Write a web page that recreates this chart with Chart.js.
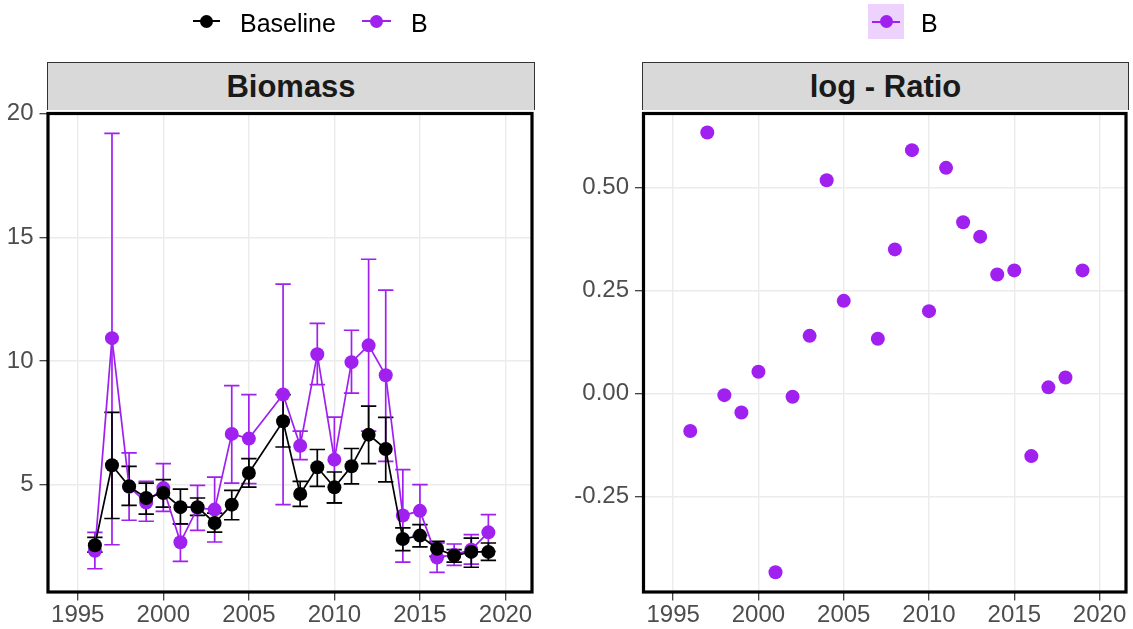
<!DOCTYPE html>
<html>
<head>
<meta charset="utf-8">
<script src="https://cdn.jsdelivr.net/npm/chart.js@4/dist/chart.umd.min.js"></script>
<style>
  html, body { margin: 0; padding: 0; background: #fff; }
  #wrap { position: relative; width: 1133px; height: 629px; overflow: hidden; font-family: "Liberation Sans", Arial, sans-serif; }
  canvas { position: absolute; top: 0; }
  .strip { position: absolute; top: 62px; height: 48px; background: #D9D9D9; border: 1px solid #333; border-bottom: none;
           box-sizing: border-box; text-align: center; line-height: 48px; font-weight: bold; font-size: 31px; color: #1A1A1A; }
  .leg { position: absolute; top: 8px; font-size: 25px; line-height: 30px; color: #000; white-space: nowrap; }
  .kline { position: absolute; height: 2px; }
  .kdot { position: absolute; width: 13px; height: 13px; border-radius: 50%; }
  .kbox { position: absolute; background: #ECD2FC; }
</style>
</head>
<body>
<div id="wrap">
  <canvas id="c1" width="566" height="629" style="left:0"></canvas>
  <canvas id="c2" width="567" height="629" style="left:566px"></canvas>

  <div class="strip" style="left:47px; width:488px;">Biomass</div>
  <div class="strip" style="left:642px; width:487px;">log - Ratio</div>

  <!-- left legend -->
  <div class="kline" style="left:193px; width:27px; top:20px; background:#000;"></div>
  <div class="kdot" style="left:200px; top:14.5px; background:#000;"></div>
  <div class="leg" style="left:240px;">Baseline</div>
  <div class="kline" style="left:362px; width:29px; top:20px; background:#A020F0;"></div>
  <div class="kdot" style="left:370px; top:14.5px; background:#A020F0;"></div>
  <div class="leg" style="left:411px;">B</div>

  <!-- right legend -->
  <div class="kbox" style="left:868px; top:4px; width:36px; height:35px;"></div>
  <div class="kline" style="left:872px; width:28px; top:20.5px; background:#A020F0;"></div>
  <div class="kdot" style="left:879.5px; top:15px; background:#A020F0;"></div>
  <div class="leg" style="left:921px;">B</div>
</div>

<script>
// ---------------- data ----------------
const years = [1996,1997,1998,1999,2000,2001,2002,2003,2004,2005,2007,2008,2009,2010,2011,2012,2013,2014,2015,2016,2017,2018,2019];

const baseline   = [2.55,5.78,4.93,4.46,4.66,4.09,4.09,3.45,4.19,5.47,7.56,4.62,5.70,4.89,5.74,7.02,6.44,2.80,2.94,2.41,2.13,2.28,2.28];
const baselineLo = [2.27,3.63,4.16,3.81,4.09,3.41,3.76,3.08,3.58,4.90,6.52,4.12,4.93,4.26,5.03,5.85,5.11,2.33,2.48,2.10,1.87,1.66,1.94];
const baselineHi = [2.87,7.92,5.74,5.06,5.20,4.82,4.46,3.85,4.77,6.05,8.64,5.13,6.42,5.51,6.46,8.17,7.72,3.25,3.38,2.71,2.37,2.84,2.64];

const bValues = [2.33,10.92,4.91,4.28,4.86,2.67,4.06,3.99,7.05,6.86,8.64,6.57,10.27,6.01,9.95,10.63,9.42,3.75,3.94,2.05,2.17,2.37,3.07];
const bLo     = [1.60,2.57,3.56,3.52,3.92,1.90,3.15,2.68,5.06,5.04,4.19,6.01,9.04,4.25,8.70,7.16,5.94,1.87,2.95,1.45,1.74,1.79,2.30];
const bHi     = [3.07,19.20,6.28,5.13,5.85,3.41,4.97,5.30,9.00,8.64,13.10,7.16,11.52,7.73,11.24,14.11,12.86,5.61,5.00,2.64,2.60,2.98,3.79];

const logRatio = [-0.091,0.634,-0.004,-0.046,0.053,-0.434,-0.008,0.140,0.518,0.225,0.133,0.350,0.591,0.200,0.548,0.416,0.381,0.289,0.299,-0.152,0.015,0.039,0.299];

const xTicks = [1995,2000,2005,2010,2015,2020];
const yTicksBiomass = [5,10,15,20];
const yTicksRatio = [-0.25,0,0.25,0.5];

// ---------------- styling ----------------
const PURPLE = '#A020F0';
const GRID = '#EBEBEB';
const TICKTXT = '#4D4D4D';
const FONT = '"Liberation Sans", Arial, sans-serif';

const toPts = (xs, ys) => xs.map((x, i) => ({ x: x, y: ys[i] }));

const errorBars = {
  id: 'errorBars',
  beforeDatasetsDraw(chart, args, opts) {
    if (!opts || !opts.series) return;
    const ctx = chart.ctx, xs = chart.scales.x, ys = chart.scales.y;
    ctx.save();
    ctx.beginPath();
    ctx.rect(chart.chartArea.left, chart.chartArea.top, chart.chartArea.right - chart.chartArea.left, chart.chartArea.bottom - chart.chartArea.top);
    ctx.clip();
    opts.series.forEach(s => {
      ctx.strokeStyle = s.color;
      ctx.lineWidth = 1.7;
      s.x.forEach((xv, i) => {
        const px = xs.getPixelForValue(xv);
        const hw = xs.getPixelForValue(xv + 0.45) - px;
        const y1 = ys.getPixelForValue(s.lo[i]);
        const y2 = ys.getPixelForValue(s.hi[i]);
        ctx.beginPath();
        ctx.moveTo(px, y1); ctx.lineTo(px, y2);
        ctx.moveTo(px - hw, y1); ctx.lineTo(px + hw, y1);
        ctx.moveTo(px - hw, y2); ctx.lineTo(px + hw, y2);
        ctx.stroke();
      });
    });
    ctx.restore();
  }
};

const panelBorder = {
  id: 'panelBorder',
  afterDraw(chart) {
    const a = chart.chartArea, ctx = chart.ctx;
    ctx.save();
    ctx.strokeStyle = '#000';
    ctx.lineWidth = 3.2;
    ctx.strokeRect(a.left, a.top, a.right - a.left, a.bottom - a.top);
    ctx.restore();
  }
};

function xScale() {
  return {
    type: 'linear',
    min: 1993.26, max: 2021.55,
    afterBuildTicks: s => { s.ticks = xTicks.map(v => ({ value: v })); },
    afterFit: s => { s.height = 37; },
    ticks: { font: { size: 24, family: FONT }, color: TICKTXT, padding: 0, maxRotation: 0, autoSkip: false, callback: v => String(v) },
    grid: { color: GRID, lineWidth: 1.4, tickColor: '#333', tickLength: 8.5, tickWidth: 1.2 },
    border: { display: false }
  };
}

function yScale(min, max, ticks, width, fmt) {
  return {
    type: 'linear',
    min: min, max: max,
    afterBuildTicks: s => { s.ticks = ticks.map(v => ({ value: v })); },
    afterFit: s => { s.width = width; },
    ticks: { font: { size: 24, family: FONT }, color: TICKTXT, padding: 6, autoSkip: false, callback: fmt },
    grid: { color: GRID, lineWidth: 1.4, tickColor: '#333', tickLength: 8.5, tickWidth: 1.2 },
    border: { display: false }
  };
}

Chart.defaults.animation = false;

new Chart(document.getElementById('c1'), {
  type: 'line',
  data: {
    datasets: [
      { label: 'Baseline', data: toPts(years, baseline), borderColor: '#000', backgroundColor: '#000',
        borderWidth: 1.7, pointRadius: 7, pointBorderWidth: 0, pointBackgroundColor: '#000', tension: 0 },
      { label: 'B', data: toPts(years, bValues), borderColor: PURPLE, backgroundColor: PURPLE,
        borderWidth: 1.7, pointRadius: 7, pointBorderWidth: 0, pointBackgroundColor: PURPLE, tension: 0 }
    ]
  },
  options: {
    responsive: false,
    devicePixelRatio: 1,
    layout: { padding: { top: 113.5, right: 34, left: 0, bottom: 0 } },
    plugins: {
      legend: { display: false },
      tooltip: { enabled: false },
      errorBars: { series: [
        { x: years, lo: bLo, hi: bHi, color: PURPLE },
        { x: years, lo: baselineLo, hi: baselineHi, color: '#000' }
      ] }
    },
    scales: {
      x: xScale(),
      y: yScale(0.66, 20.0, yTicksBiomass, 48, v => String(v))
    }
  },
  plugins: [errorBars, panelBorder]
});

new Chart(document.getElementById('c2'), {
  type: 'scatter',
  data: {
    datasets: [
      { label: 'B', data: toPts(years, logRatio), borderColor: PURPLE, backgroundColor: PURPLE,
        pointRadius: 7, pointBorderWidth: 0, pointBackgroundColor: PURPLE, showLine: false }
    ]
  },
  options: {
    responsive: false,
    devicePixelRatio: 1,
    layout: { padding: { top: 113.5, right: 6, left: 0, bottom: 0 } },
    plugins: { legend: { display: false }, tooltip: { enabled: false } },
    scales: {
      x: xScale(),
      y: yScale(-0.482, 0.680, yTicksRatio, 77.5, v => Number(v).toFixed(2))
    }
  },
  plugins: [panelBorder]
});
</script>
</body>
</html>
